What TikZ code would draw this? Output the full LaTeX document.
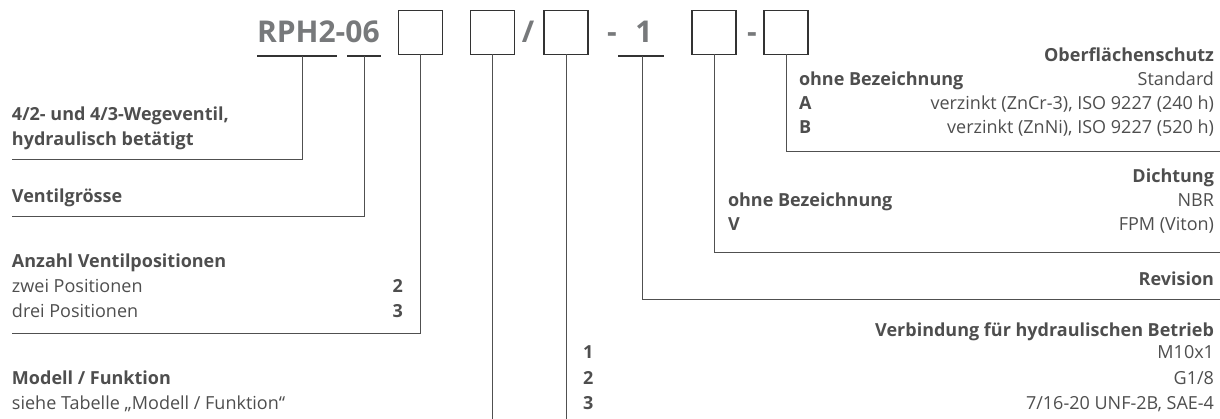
\documentclass[tikz,border=0pt]{standalone}
\usepackage{fontspec}
\setmainfont{Open Sans}
\definecolor{ink}{HTML}{4E4E4E}
\definecolor{codegray}{HTML}{77797B}
\definecolor{boxline}{HTML}{333333}
\definecolor{leadline}{HTML}{505050}
\begin{document}
\begin{tikzpicture}[x=1pt,y=-1pt,
  every node/.style={inner sep=0pt,outer sep=0pt,text=ink},
  body/.style={font=\fontsize{18}{22}\selectfont},
  title/.style={font=\fontsize{18}{22}\selectfont\bfseries},
  L/.style={anchor=base west},
  R/.style={anchor=base east},
  codebox/.style={draw=boxline,line width=1.4pt,minimum width=44pt,minimum height=44pt},
  code/.style={font=\fontsize{30}{30}\selectfont\bfseries,text=codegray},
  underl/.style={draw=boxline,line width=1.2pt},
  leader/.style={draw=leadline,line width=1pt}
]
\useasboundingbox (0,0) rectangle (1220,419);

% type code with its empty option fields
\node[code,L] (rph) at (257,43) {RPH2-06};
\node[codebox] (b1) at (420.5,32.5) {};
\node[codebox] (b2) at (492.5,32.5) {};
\node[code,anchor=base] (sl) at (528,43) {/};
\node[codebox] (b3) at (566,32.5) {};
\node[code,anchor=base] (d1) at (612,43) {-};
\node[code,anchor=base] (rev) at (644,43) {1};
\node[codebox] (b4) at (714,32.5) {};
\node[code,anchor=base] (d2) at (752,43) {-};
\node[codebox] (b5) at (786,32.5) {};

% underlines below the fixed parts
\coordinate (u1a) at (257,56); \coordinate (u1b) at (337,56);
\coordinate (u2a) at (347,56); \coordinate (u2b) at (381,56);
\coordinate (u3a) at (618,56); \coordinate (u3b) at (664,56);
\draw[underl] (u1a) -- (u1b);
\draw[underl] (u2a) -- (u2b);
\draw[underl] (u3a) -- (u3b);
\coordinate (k1) at (302,56);
\coordinate (k2) at (364,56);
\coordinate (k6) at (642,56);

% left column
\node[title,L] (t1a) at (12,121) {4/2- und 4/3-Wegeventil,};
\node[title,L] (t1b) at (12,146) {hydraulisch betätigt};
\node[title,L] (t2) at (12,203) {Ventilgrösse};
\node[title,L] (t3) at (12,268) {Anzahl Ventilpositionen};
\node[body,L] (t3a) at (12,293) {zwei Positionen};
\node[title,R] (t3an) at (403,293) {2};
\node[body,L] (t3b) at (12,318) {drei Positionen};
\node[title,R] (t3bn) at (403,318) {3};
\node[title,L] (t4) at (12,384) {Modell / Funktion};
\node[body,L] (t4a) at (12,409) {siehe Tabelle „Modell / Funktion“};

% right column
\node[title,R] (h8) at (1214,62) {Oberflächenschutz};
\node[title,L] (h8a) at (799,86) {ohne Bezeichnung};
\node[body,R] (h8av) at (1214,86) {Standard};
\node[title,L] (h8b) at (799,110) {A};
\node[body,R] (h8bv) at (1214,110) {verzinkt (ZnCr-3), ISO 9227 (240 h)};
\node[title,L] (h8c) at (799,134) {B};
\node[body,R] (h8cv) at (1214,134) {verzinkt (ZnNi), ISO 9227 (520 h)};

\node[title,R] (h7) at (1214,183) {Dichtung};
\node[title,L] (h7a) at (728,207) {ohne Bezeichnung};
\node[body,R] (h7av) at (1214,207) {NBR};
\node[title,L] (h7b) at (728,231) {V};
\node[body,R] (h7bv) at (1214,231) {FPM (Viton)};

\node[title,R] (h6) at (1214,286) {Revision};

\node[title,R] (h5) at (1214,337) {Verbindung für hydraulischen Betrieb};
\node[title,L] (h5a) at (583,359) {1};
\node[body,R] (h5av) at (1214,359) {M10x1};
\node[title,L] (h5b) at (583,384) {2};
\node[body,R] (h5bv) at (1214,384) {G1/8};
\node[title,L] (h5c) at (583,409) {3};
\node[body,R] (h5cv) at (1214,409) {7/16-20 UNF-2B, SAE-4};

% leader ends
\coordinate (e1) at (12,160);
\coordinate (e2) at (12,217);
\coordinate (e3) at (12,334);
\coordinate (e4) at (b2.south |- 0,419);
\coordinate (e5) at (b3.south |- 0,419);
\coordinate (e6) at (1220,300);
\coordinate (e7) at (1220,253);
\coordinate (e8) at (1220,152);

% leaders
\draw[leader] (k1) |- (e1);
\draw[leader] (k2) |- (e2);
\draw[leader] (b1.south) |- (e3);
\draw[leader] (b2.south) -- (e4);
\draw[leader] (b3.south) -- (e5);
\draw[leader] (k6) |- (e6);
\draw[leader] (b4.south) |- (e7);
\draw[leader] (b5.south) |- (e8);
\end{tikzpicture}
\end{document}
